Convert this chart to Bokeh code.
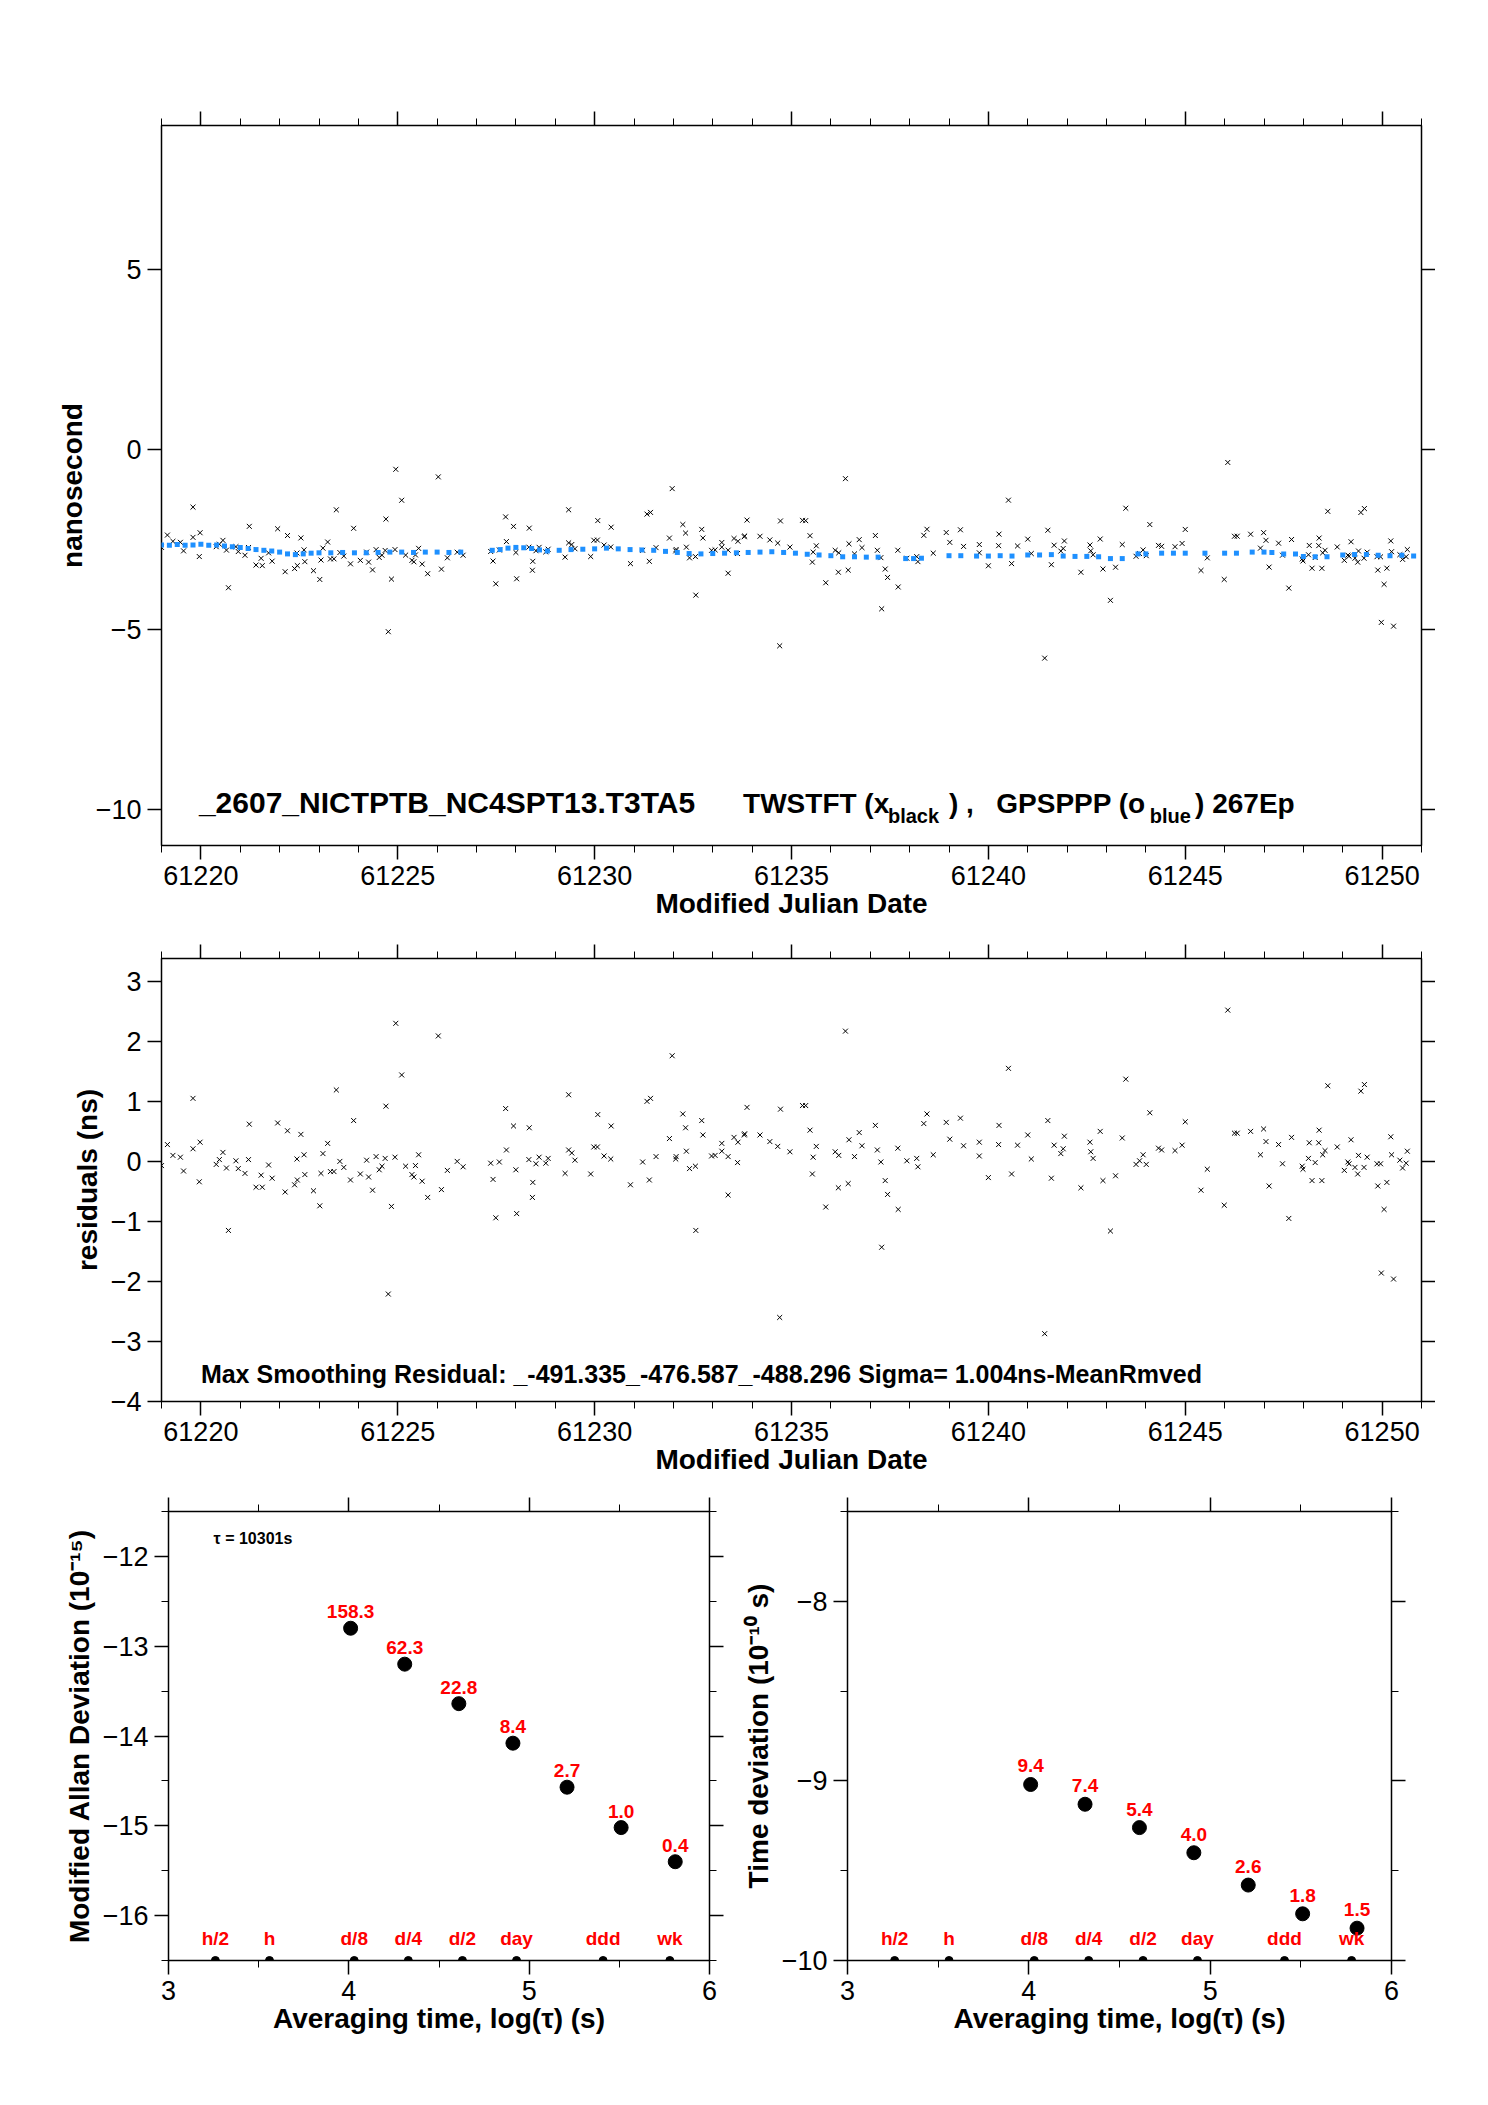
import numpy as np
from bokeh.plotting import figure
from bokeh.layouts import column, row
from bokeh.models import LinearAxis, SingleIntervalTicker, Range1d, CustomJSTickFormatter
from bokeh.core.properties import value
from bokeh.embed import file_html
from bokeh.resources import INLINE

# ---------------- data ----------------
gps_mjd = [61219.0, 61219.2, 61219.4, 61219.6, 61219.8, 61220.0, 61220.2, 61220.4, 61220.6, 61220.8,
           61221.0, 61221.2, 61221.4, 61221.6, 61221.8, 61222.0, 61222.2, 61222.4, 61222.6, 61222.8,
           61223.0, 61223.3, 61223.6, 61223.9, 61224.2, 61224.5, 61224.8, 61225.1, 61225.4, 61225.7,
           61226.0, 61226.3, 61226.6,
           61227.4, 61227.6, 61227.8, 61228.0, 61228.2, 61228.4, 61228.6, 61228.8, 61229.1, 61229.4,
           61229.7, 61230.0, 61230.3, 61230.6, 61230.9, 61231.2, 61231.5, 61231.8, 61232.1, 61232.4,
           61232.7, 61233.0, 61233.3, 61233.6, 61233.9, 61234.2, 61234.5, 61234.8, 61235.1, 61235.4,
           61235.7, 61236.0, 61236.3, 61236.6, 61236.9, 61237.2, 61237.9, 61238.1, 61238.3, 61239.0,
           61239.3, 61239.7, 61240.0, 61240.3, 61240.6, 61241.0, 61241.3, 61241.6, 61241.9, 61242.2,
           61242.5, 61242.8, 61243.1, 61243.4, 61243.8, 61244.0, 61244.4, 61244.7, 61245.0, 61245.5,
           61246.0, 61246.3, 61246.7, 61247.0, 61247.2, 61247.5, 61247.8, 61248.0, 61248.3, 61248.6,
           61249.0, 61249.3, 61249.6, 61249.9, 61250.2, 61250.5, 61250.8]
gps_ns = [-2.65, -2.66, -2.64, -2.66, -2.65, -2.63, -2.66, -2.65, -2.68, -2.70,
          -2.72, -2.75, -2.78, -2.80, -2.82, -2.85, -2.90, -2.92, -2.90, -2.88,
          -2.87, -2.87, -2.86, -2.87, -2.87, -2.86, -2.85, -2.85, -2.86, -2.85,
          -2.85, -2.86, -2.85,
          -2.80, -2.78, -2.74, -2.72, -2.73, -2.75, -2.79, -2.82, -2.80, -2.78,
          -2.77, -2.76, -2.74, -2.76, -2.78, -2.79, -2.80, -2.83, -2.86, -2.89,
          -2.90, -2.89, -2.88, -2.87, -2.86, -2.85, -2.84, -2.86, -2.88, -2.91,
          -2.93, -2.95, -2.98, -2.98, -2.99, -2.99, -3.03, -3.03, -3.02, -2.95,
          -2.95, -2.96, -2.96, -2.95, -2.96, -2.93, -2.93, -2.92, -2.96, -2.97,
          -2.97, -2.98, -3.03, -3.03, -2.90, -2.90, -2.88, -2.88, -2.88, -2.88,
          -2.88, -2.88, -2.85, -2.85, -2.86, -2.90, -2.90, -2.97, -2.98, -2.98,
          -2.93, -2.92, -2.92, -2.94, -2.95, -2.94, -2.96]

res_mjd = [61219.00, 61219.15, 61219.29, 61219.48, 61219.56, 61219.80, 61219.80, 61219.98, 61219.96, 61220.39,
           61220.47, 61220.56, 61220.65, 61220.70, 61220.89, 61220.95, 61221.12, 61221.21, 61221.23, 61221.40,
           61221.53, 61221.56, 61221.72, 61221.81, 61221.95, 61222.14, 61222.20, 61222.38, 61222.44, 61222.45,
           61222.54, 61222.62, 61222.64, 61222.86, 61223.02, 61223.05, 61223.10, 61223.22, 61223.29, 61223.38,
           61223.44, 61223.53, 61223.63, 61223.80, 61223.88, 61224.05, 61224.21, 61224.26, 61224.36, 61224.45,
           61224.53, 61224.60, 61224.68, 61224.70, 61224.76, 61224.84, 61224.93, 61224.95, 61225.10, 61225.20,
           61225.36, 61225.41, 61225.45, 61225.53, 61225.62, 61225.76, 61226.03, 61226.11, 61226.26, 61226.51,
           61226.66, 61227.36, 61227.42, 61227.49, 61227.58, 61227.74, 61227.76, 61227.94, 61228.00, 61228.02,
           61228.34, 61228.33, 61228.43, 61228.42, 61228.51, 61228.59, 61228.76, 61228.82, 61229.25, 61229.34,
           61229.34, 61229.42, 61229.50, 61229.90, 61229.98, 61230.07, 61230.08, 61230.24, 61230.41, 61230.42,
           61230.91, 61231.22, 61231.33, 61231.42, 61231.39, 61231.56, 61231.90, 61231.97, 61232.06, 61232.07,
           61232.24, 61232.31, 61232.33, 61232.41, 61232.56, 61232.57, 61232.72, 61232.75, 61232.97, 61233.06,
           61233.23, 61233.23, 61233.39, 61233.39, 61233.54, 61233.63, 61233.64, 61233.80, 61233.81, 61233.87,
           61234.20, 61234.45, 61234.65, 61234.70, 61234.72, 61234.96, 61235.28, 61235.36, 61235.47, 61235.53,
           61235.55, 61235.63, 61235.87, 61236.11, 61236.20, 61236.19, 61236.37, 61236.44, 61236.46, 61236.60,
           61236.72, 61236.79, 61237.13, 61237.18, 61237.27, 61237.29, 61237.38, 61237.44, 61237.70, 61237.71,
           61237.93, 61238.18, 61238.21, 61238.36, 61238.44, 61238.60, 61238.93, 61239.02, 61239.29, 61239.37,
           61239.77, 61239.77, 61240.00, 61240.26, 61240.27, 61240.51, 61240.59, 61240.74, 61241.00, 61241.09,
           61241.43, 61241.51, 61241.60, 61241.67, 61241.84, 61241.90, 61241.93, 61242.35, 61242.58, 61242.60,
           61242.66, 61242.84, 61242.91, 61243.10, 61243.23, 61243.40, 61243.49, 61243.75, 61243.84, 61243.93,
           61244.01, 61244.10, 61244.32, 61244.40, 61244.74, 61244.92, 61245.00, 61245.40, 61245.56, 61245.99,
           61246.08, 61246.25, 61246.32, 61246.66, 61246.91, 61246.99, 61247.05, 61247.13, 61247.37, 61247.47,
           61247.63, 61247.70, 61247.97, 61247.99, 61248.13, 61248.15, 61248.22, 61248.30, 61248.39, 61248.40,
           61248.47, 61248.49, 61248.55, 61248.62, 61248.86, 61249.04, 61249.13, 61249.16, 61249.21, 61249.31,
           61249.38, 61249.40, 61249.46, 61249.55, 61249.54, 61249.62, 61249.87, 61249.89, 61249.96, 61249.98,
           61250.05, 61250.12, 61250.22, 61250.24, 61250.29, 61250.45, 61250.52, 61250.61, 61250.64]
res_ns = [-0.07, 0.28, 0.10, 0.07, -0.16, 1.05, 0.21, 0.32, -0.34, -0.05,
          0.03, 0.15, -0.11, -1.15, 0.01, -0.12, -0.20, 0.03, 0.62, -0.43,
          -0.23, -0.43, -0.06, -0.28, 0.64, -0.51, 0.51, -0.39, 0.04, -0.31,
          0.45, 0.11, -0.22, -0.49, -0.74, -0.20, 0.13, 0.30, -0.17, -0.17,
          1.19, 0.00, -0.10, -0.31, 0.68, -0.21, 0.02, -0.26, -0.48, 0.08,
          -0.14, -0.08, 0.05, 0.92, -2.21, -0.75, 0.07, 2.30, 1.44, -0.08,
          -0.22, -0.26, -0.07, 0.11, -0.33, -0.60, 2.09, -0.47, -0.15, 0.00,
          -0.09, -0.03, -0.30, -0.94, -0.01, 0.88, 0.19, 0.59, -0.14, -0.87,
          0.56, 0.03, -0.35, -0.60, -0.04, 0.07, -0.03, 0.05, -0.20, 1.11,
          0.19, 0.14, 0.02, -0.21, 0.24, 0.24, 0.78, 0.09, 0.04, 0.59,
          -0.39, -0.01, 1.00, 1.05, -0.31, 0.08, 0.38, 1.76, 0.04, 0.08,
          0.79, 0.56, 0.17, -0.12, -0.08, -1.15, 0.68, 0.44, 0.09, 0.10,
          0.30, 0.17, 0.08, -0.56, 0.40, -0.02, 0.32, 0.44, 0.46, 0.90,
          0.44, 0.33, 0.25, -2.60, 0.87, 0.16, 0.93, 0.93, 0.52, -0.21,
          0.07, 0.25, -0.76, 0.16, 0.10, -0.44, 2.17, -0.37, 0.36, 0.08,
          0.48, 0.26, 0.60, 0.19, -0.01, -1.43, -0.32, -0.55, 0.22, -0.80,
          0.01, 0.05, -0.09, 0.63, 0.79, 0.11, 0.65, 0.37, 0.72, 0.26,
          0.32, 0.09, -0.27, 0.28, 0.60, 1.55, -0.21, 0.27, 0.44, 0.04,
          -2.87, 0.68, -0.28, 0.27, 0.13, 0.21, 0.42, -0.44, 0.32, 0.16,
          0.05, 0.50, -0.32, -1.16, -0.24, 0.39, 1.37, -0.05, 0.01, 0.11,
          -0.05, 0.81, 0.22, 0.19, 0.18, 0.27, 0.66, -0.48, -0.13, -0.73,
          2.52, 0.47, 0.47, 0.50, 0.11, 0.54, 0.33, -0.41, 0.28, -0.04,
          -0.95, 0.40, -0.08, -0.13, 0.05, 0.31, -0.32, -0.02, 0.31, 0.52,
          -0.32, 0.11, 0.18, 1.26, 0.24, -0.15, -0.01, -0.04, 0.36, -0.10,
          -0.21, 0.10, 1.17, 1.28, -0.10, 0.07, -0.04, -0.41, -0.04, -1.86,
          -0.80, -0.35, 0.41, 0.11, -1.96, 0.02, -0.11, -0.03, 0.17]

# TWSTFT values = GPSPPP smoothing reference + residual (that is how the residual panel is built)
tw_mjd = res_mjd
tw_ns = list(np.interp(res_mjd, gps_mjd, gps_ns) + np.array(res_ns))

adev_x = [4.01, 4.31, 4.61, 4.91, 5.21, 5.51, 5.81]
adev_y = [-12.8, -13.2, -13.64, -14.08, -14.57, -15.02, -15.4]
adev_lbl = ["158.3", "62.3", "22.8", "8.4", "2.7", "1.0", "0.4"]
tdev_x = [4.01, 4.31, 4.61, 4.91, 5.21, 5.51, 5.81]
tdev_y = [-9.02, -9.13, -9.26, -9.40, -9.58, -9.74, -9.82]
tdev_lbl = ["9.4", "7.4", "5.4", "4.0", "2.6", "1.8", "1.5"]
tau_x = [3.26, 3.56, 4.03, 4.33, 4.63, 4.93, 5.41, 5.78]
tau_lbl = ["h/2", "h", "d/8", "d/4", "d/2", "day", "ddd", "wk"]

FONT = "Liberation Sans"
TICK_FS = "27px"
LAB_FS = "28px"
tf = value(FONT)


def style(p, xint, xminor, yint, yminor):
    bx = p.below[0]
    ly = p.left[0]
    bx.ticker = SingleIntervalTicker(interval=xint, num_minor_ticks=xminor)
    ly.ticker = SingleIntervalTicker(interval=yint, num_minor_ticks=yminor)
    blank = CustomJSTickFormatter(code="return ''")
    ry = LinearAxis(formatter=blank, ticker=SingleIntervalTicker(interval=yint, num_minor_ticks=yminor))
    ax_ = LinearAxis(formatter=blank, ticker=SingleIntervalTicker(interval=xint, num_minor_ticks=xminor))
    p.add_layout(ry, "right")
    p.add_layout(ax_, "above")
    for ax in (bx, ly, ry, ax_):
        ax.major_tick_in = 0
        ax.major_tick_out = 14
        ax.minor_tick_in = 0
        ax.minor_tick_out = 7
        ax.major_tick_line_width = 1.5
        ax.axis_line_color = None
        ax.major_label_text_font = FONT
        ax.major_label_text_font_size = TICK_FS
        ax.major_label_text_color = "black"
        ax.major_label_standoff = 6
    for ax in (bx, ly):
        ax.axis_label_text_font = FONT
        ax.axis_label_text_font_style = "bold"
        ax.axis_label_text_font_size = LAB_FS
        ax.axis_label_text_color = "black"
    for ax in (ry, ax_):
        ax.major_label_standoff = 0
    p.xgrid.visible = False
    p.ygrid.visible = False
    p.outline_line_color = "black"
    p.outline_line_width = 1.5
    p.background_fill_color = "white"
    p.border_fill_color = "white"
    return bx, ly


# ---------------- top panel ----------------
p1 = figure(frame_width=1260, frame_height=720, output_backend="svg", toolbar_location=None,
            x_range=Range1d(61219, 61251), y_range=Range1d(-11, 9),
            min_border_left=161, min_border_top=125, min_border_right=10, min_border_bottom=60)
bx, ly = style(p1, 5, 5, 5, 0)
bx.axis_label = "Modified Julian Date"
ly.axis_label = "nanosecond"
bx.axis_label_standoff = 0
p1.scatter(tw_mjd, tw_ns, marker="x", size=7, line_color="black", line_width=1)
p1.scatter(gps_mjd, gps_ns, marker="square", size=5, line_color=None, fill_color="#1e90ff")
p1.text(x=[61219.95], y=[-10.25], text=["_2607_NICTPTB_NC4SPT13.T3TA5"], text_font=tf,
        text_font_size="30px", text_font_style="bold", text_baseline="bottom")
parts = [(61233.77, "TWSTFT (x", "28px", 0), (61237.45, "black", "20px", 8), (61239.0, ") ,", "28px", 0),
         (61240.2, "GPSPPP (o", "28px", 0), (61244.1, "blue", "20px", 8), (61245.25, ")  267Ep", "28px", 0)]
for px, t, fs, off in parts:
    p1.text(x=[px], y=[-10.25], text=[t], text_font=tf, text_font_size=fs, text_font_style="bold",
            text_baseline="bottom", y_offset=off)

# ---------------- residual panel ----------------
p2 = figure(frame_width=1260, frame_height=443, output_backend="svg", toolbar_location=None,
            x_range=Range1d(61219, 61251), y_range=Range1d(-4, 3.38),
            min_border_left=161, min_border_top=37, min_border_right=10, min_border_bottom=60)
bx, ly = style(p2, 5, 5, 1, 0)
bx.axis_label = "Modified Julian Date"
ly.axis_label = "residuals (ns)"
bx.axis_label_standoff = 0
p2.scatter(res_mjd, res_ns, marker="x", size=7, line_color="black", line_width=1)
p2.text(x=[61220.0], y=[-3.78],
        text=["Max Smoothing Residual: _-491.335_-476.587_-488.296  Sigma= 1.004ns-MeanRmved"],
        text_font=tf, text_font_size="25px", text_font_style="bold", text_baseline="bottom")


# ---------------- stability panels ----------------
def stab(yr, yint, ylabel, xs, ys, lbls, border_left, fw, lbl_off):
    p = figure(frame_width=fw, frame_height=449, output_backend="svg", toolbar_location=None,
               x_range=Range1d(3, 6), y_range=yr,
               min_border_left=border_left, min_border_top=34, min_border_right=30, min_border_bottom=60)
    bx, ly = style(p, 1, 2, yint, 2)
    bx.axis_label = "Averaging time, log(\u03c4) (s)"
    bx.axis_label_standoff = 0
    ly.axis_label = ylabel
    p.scatter(xs, ys, size=14, fill_color="black", line_color="black")
    p.text(xs, ys, text=lbls, text_font=tf, text_font_size="19px", text_font_style="bold",
           text_color="red", text_align="center", text_baseline="bottom", y_offset=lbl_off)
    ybot = [yr.start] * len(tau_x)
    p.scatter(tau_x, ybot, size=8, fill_color="black", line_color="black")
    p.text(tau_x, ybot, text=tau_lbl, text_font=tf, text_font_size="19px", text_font_style="bold",
           text_color="red", text_align="center", text_baseline="bottom", y_offset=-12)
    return p


p3 = stab(Range1d(-16.5, -11.5), 1, "Modified Allan Deviation (10\u207b\u00b9\u2075)",
          adev_x, adev_y, adev_lbl, 168, 541, -10)
p3.text(x=[3.25], y=[-11.8], text=["\u03c4 = 10301s"], text_font=tf, text_font_size="16px",
        text_font_style="bold", text_baseline="middle")
p4 = stab(Range1d(-10, -7.5), 1, "Time deviation (10\u207b\u00b9\u2070 s)",
          tdev_x, tdev_y, tdev_lbl, 101, 544, -12)

layout = column(p1, p2, row(p3, p4, spacing=0), spacing=0)
open("out.html", "w").write(file_html(layout, INLINE))
